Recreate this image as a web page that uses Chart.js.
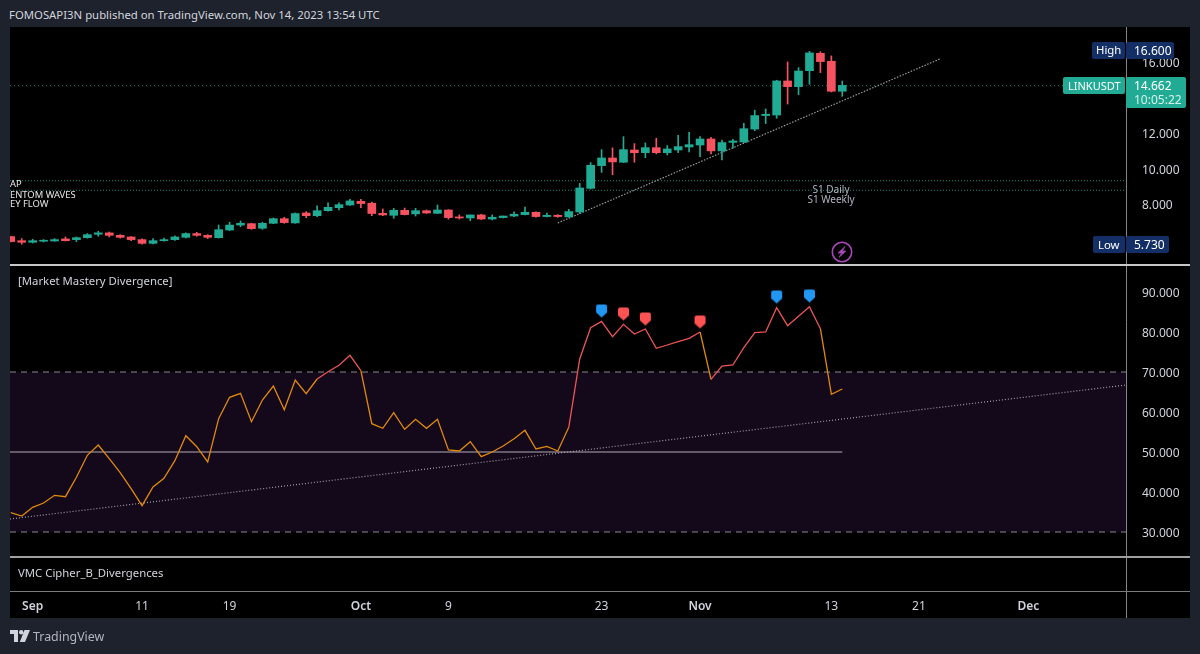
<!DOCTYPE html>
<html>
<head>
<meta charset="utf-8">
<script src="https://cdn.jsdelivr.net/npm/chart.js@4"></script>
<style>
html, body { margin: 0; padding: 0; background: #1e222d; width: 1200px; height: 654px; overflow: hidden; }
body { font-family: "Noto Sans", sans-serif; color: #d1d4dc; font-size: 11.35px; }
#chart { position: absolute; left: 10px; top: 27px; }
.txt { position: absolute; white-space: nowrap; line-height: 14px; }
.box { position: absolute; border-radius: 2px; }
.num { font-size: 12px; }
#leftClip { position: absolute; left: 10px; top: 176px; width: 100px; height: 40px; overflow: hidden; font-size: 9.4px; color: #e6e6e6; }
</style>
</head>
<body>
<canvas id="chart" width="1180" height="591"></canvas>

<div class="txt" style="left:9px;top:8px;">FOMOSAPI3N published on TradingView.com, Nov 14, 2023 13:54 UTC</div>

<div class="box" style="left:1092px;top:42px;width:33px;height:17px;background:#132f66;"></div>
<div class="box" style="left:1126px;top:42px;width:48px;height:17px;background:#132f66;"></div>
<div class="txt" style="left:1096px;top:43px;color:#fff;">High</div>
<div class="txt num" style="left:1134px;top:44px;color:#fff;">16.600</div>

<div class="box" style="left:1063px;top:77px;width:62px;height:17px;background:#22ab94;"></div>
<div class="box" style="left:1126px;top:77px;width:60px;height:31px;background:#22ab94;"></div>
<div class="txt" style="left:1068px;top:79px;color:#fff;font-size:11px;">LINKUSDT</div>
<div class="txt num" style="left:1134px;top:79px;color:#fff;">14.662</div>
<div class="txt num" style="left:1134px;top:93px;color:#d5f0ea;">10:05:22</div>

<div class="box" style="left:1093px;top:236px;width:32px;height:17px;background:#132f66;"></div>
<div class="box" style="left:1126px;top:236px;width:43px;height:17px;background:#132f66;"></div>
<div class="txt" style="left:1098px;top:238px;color:#fff;">Low</div>
<div class="txt num" style="left:1134px;top:238px;color:#fff;">5.730</div>

<div id="leftClip">
  <div class="txt" style="left:0;top:1px;">AP</div>
  <div class="txt" style="left:0;top:12px;">ENTOM WAVES</div>
  <div class="txt" style="left:0;top:21px;">EY FLOW</div>
</div>

<div class="txt" style="left:791px;width:80px;text-align:center;top:182px;font-size:10px;color:#b2b5be;">S1 Daily</div>
<div class="txt" style="left:791px;width:80px;text-align:center;top:192px;font-size:10px;color:#b2b5be;">S1 Weekly</div>

<svg style="position:absolute;left:831px;top:241px;" width="22" height="22" viewBox="0 0 22 22">
  <circle cx="11" cy="11" r="9.7" fill="none" stroke="#ab47bc" stroke-width="1.6"/>
  <path d="M14 5.5 L7 12 H10.5 L8 16.5 L15 10 H11.5 Z" fill="#ab47bc" stroke="#ab47bc" stroke-width="0.6"/>
</svg>

<div class="txt" style="left:18px;top:274px;">[Market Mastery Divergence]</div>
<div class="txt" style="left:18px;top:566px;">VMC Cipher_B_Divergences</div>

<svg style="position:absolute;left:10px;top:630px;" width="20" height="12" viewBox="0 0 20 12">
  <path d="M0 0 H8 V12 H4 V4 H0 Z" fill="#d1d4dc"/>
  <circle cx="11.2" cy="2.2" r="2.2" fill="#d1d4dc"/>
  <path d="M14.5 0 H20 L15 12 H9.8 Z" fill="#d1d4dc"/>
</svg>
<div class="txt" style="left:33px;top:629px;font-size:12.4px;line-height:16px;color:#b2b5be;">TradingView</div>

<script>
// days counted from 1 Sep 2023, first candle is 30 Aug
const firstDay = -2;
const opens = [6.16,5.93,5.84,5.90,5.91,6.03,5.99,6.10,6.29,6.37,6.23,6.14,5.99,5.78,5.93,5.99,6.12,6.33,6.23,6.10,6.53,6.81,6.89,6.63,6.91,7.17,6.93,7.49,7.34,7.62,7.79,7.94,8.15,8.04,7.47,7.36,7.64,7.44,7.62,7.47,7.66,7.27,7.21,7.38,7.15,7.23,7.32,7.40,7.53,7.29,7.36,7.27,7.55,8.88,10.16,10.59,10.35,11.04,10.89,11.17,10.89,11.04,11.21,11.32,11.66,10.99,11.47,11.49,12.22,12.98,13.01,14.93,14.61,15.51,16.49,16.04,14.35];
const highs = [6.18,6.05,6.01,5.99,6.05,6.14,6.14,6.33,6.46,6.42,6.27,6.16,6.03,6.05,6.07,6.20,6.37,6.40,6.27,6.81,6.97,7.04,6.91,6.97,7.21,7.25,7.49,7.57,7.89,8.06,8.06,8.26,8.26,8.11,7.72,7.75,7.77,7.75,7.66,7.94,7.68,7.38,7.38,7.42,7.38,7.32,7.55,7.83,7.55,7.49,7.40,7.70,9.16,10.33,11.06,11.16,11.79,11.40,11.44,11.70,11.29,11.87,12.04,11.79,11.76,11.60,11.64,12.54,13.28,13.35,14.97,16.00,15.68,16.60,16.58,16.34,14.93];
const lows = [5.86,5.73,5.80,5.86,5.90,5.91,5.88,6.07,6.18,6.14,6.08,5.93,5.73,5.75,5.90,5.95,6.08,6.18,6.05,6.08,6.50,6.72,6.57,6.57,6.89,6.91,6.91,7.23,7.29,7.59,7.66,7.91,7.79,7.34,7.34,7.19,7.38,7.32,7.47,7.46,7.14,7.15,7.06,7.12,7.10,7.21,7.29,7.38,7.25,7.27,7.25,7.25,7.46,8.84,9.78,9.65,10.33,10.35,10.61,10.82,10.76,10.89,10.93,10.67,10.82,10.48,11.14,11.45,12.13,12.53,12.83,13.63,14.16,14.74,15.40,14.31,14.07];
const closes = [5.88,5.84,5.93,5.95,5.99,5.93,6.10,6.27,6.37,6.23,6.12,5.99,5.78,5.93,5.99,6.14,6.33,6.23,6.12,6.55,6.81,6.91,6.61,6.91,7.17,6.95,7.46,7.34,7.62,7.81,7.96,8.17,8.02,7.46,7.38,7.64,7.40,7.62,7.49,7.66,7.23,7.21,7.38,7.15,7.25,7.32,7.42,7.53,7.29,7.36,7.29,7.57,8.90,10.18,10.59,10.37,11.06,10.89,11.17,10.89,11.10,11.23,11.34,11.66,10.99,11.46,11.55,12.24,12.98,13.05,14.93,14.61,15.49,16.51,16.02,14.35,14.68];
const rsiValues = [34.83,34.0,36.17,37.25,39.17,38.83,43.67,49.17,51.75,48.33,44.83,40.83,36.58,41.25,43.42,47.83,54.08,51.33,47.5,58.33,63.67,64.67,57.58,63,66.5,60.58,68,64.58,68.25,70.08,71.67,74.17,70.33,57.08,55.92,59.83,55.67,58.17,55.92,58.17,50.5,50.25,52.58,48.83,50,51.5,53.33,55.42,50.75,51.42,50.25,56.17,73.25,81.08,82.67,78.83,81.92,79.5,80.75,75.92,76.75,77.58,78.42,80,68.17,71.5,71.75,76.08,79.83,80,86.08,81.58,83.92,86.33,80.83,64.42,65.75];

const priceTicks = [8, 10, 12, 16];
const rsiTicks = [30, 40, 50, 60, 70, 80, 90];
const timeTickDays = [0, 10, 18, 30, 38, 52, 61, 73, 81, 91];
const timeTickLabels = ['Sep', '11', '19', 'Oct', '9', '23', 'Nov', '13', '21', 'Dec'];
const monthLabels = ['Sep', 'Oct', 'Nov', 'Dec'];

const lastClose = 14.662;
const s1Daily = 9.31;
const s1Weekly = 8.77;
const priceTrendDays = [48, 83];
const priceTrendValues = [6.93, 16.19];
const rsiTrendValues = [33.25, 66.75];
const rsiLevels = [30, 50, 70];
const blueMarkDays = [52, 68, 71];
const blueMarkValues = [85.25, 88.75, 89];
const redMarkDays = [54, 56, 61];
const redMarkValues = [84.5, 83.25, 82.5];

const xMin = -2.07, xMax = 99.93;
const GREEN = '#22ab94', RED = '#f7525f';

const days = opens.map((_, i) => firstDay + i);
const candleColors = opens.map((o, i) => closes[i] >= o ? GREEN : RED);

function shieldIcon(color) {
    const c = document.createElement('canvas');
    c.width = 13; c.height = 15;
    const g = c.getContext('2d');
    g.fillStyle = color;
    g.beginPath();
    g.moveTo(3, 1);
    g.lineTo(10, 1);
    g.quadraticCurveTo(12, 1, 12, 3);
    g.lineTo(12, 9);
    g.lineTo(6.5, 14);
    g.lineTo(1, 9);
    g.lineTo(1, 3);
    g.quadraticCurveTo(1, 1, 3, 1);
    g.fill();
    return c;
}

function hLine(id, y, x0, x1, color, width, dash, extra) {
    return Object.assign({
        type: 'line', yAxisID: id, pointRadius: 0, borderColor: color, borderWidth: width,
        borderDash: dash, data: [{x: x0, y: y}, {x: x1, y: y}]
    }, extra || {});
}

const paneLines = {
    id: 'paneLines',
    afterDatasetsDraw(chart) {
        const g = chart.ctx, a = chart.chartArea;
        const yRsi = chart.scales.yRsi, yEmpty = chart.scales.yEmpty;
        g.save();
        g.strokeStyle = '#858585';
        g.lineWidth = 1;
        g.beginPath();
        g.moveTo(a.right + 0.5, 0);
        g.lineTo(a.right + 0.5, chart.height);
        g.stroke();
        g.lineWidth = 2;
        g.strokeStyle = '#c8c8c8';
        g.beginPath();
        g.moveTo(0, yRsi.top);
        g.lineTo(chart.width, yRsi.top);
        g.stroke();
        g.strokeStyle = '#a0a0a0';
        g.beginPath();
        g.moveTo(0, yEmpty.top);
        g.lineTo(chart.width, yEmpty.top);
        g.stroke();
        g.lineWidth = 1;
        g.strokeStyle = '#7c7c7c';
        g.beginPath();
        g.moveTo(0, yEmpty.bottom + 0.5);
        g.lineTo(chart.width, yEmpty.bottom + 0.5);
        g.stroke();
        g.restore();
    }
};

const blackBackground = {
    id: 'blackBackground',
    beforeDraw(chart) {
        chart.ctx.save();
        chart.ctx.fillStyle = '#000';
        chart.ctx.fillRect(0, 0, chart.width, chart.height);
        chart.ctx.restore();
    }
};

function fixedTicks(list) {
    return function(scale) { scale.ticks = list.map(v => ({value: v})); };
}

function fitPane(s) {
    s.width = 64;
    s.paddingTop = 0;
    s.paddingBottom = 0;
}

const tickFont = {family: '"Noto Sans", sans-serif', size: 12};

new Chart(document.getElementById('chart'), {
    type: 'bar',
    data: {
        datasets: [
            // 30-70 band of the oscillator
            hLine('yRsi', rsiLevels[2], xMin, xMax, '#8b8790', 1, [6, 5], {fill: '+1', backgroundColor: '#14081b', order: 9}),
            hLine('yRsi', rsiLevels[0], xMin, xMax, '#8b8790', 1, [6, 5], {order: 8}),
            hLine('yRsi', rsiLevels[1], xMin, days[days.length - 1], '#b0acb4', 1.2, [], {order: 7}),
            hLine('yPrice', s1Daily, xMin, xMax, 'rgba(34,171,148,0.8)', 1, [1, 2], {order: 6}),
            hLine('yPrice', s1Weekly, xMin, xMax, 'rgba(34,171,148,0.8)', 1, [1, 2], {order: 6}),
            hLine('yPrice', lastClose, xMin, xMax, 'rgba(34,171,148,0.8)', 1, [1, 3], {order: 6}),
            {
                type: 'line', yAxisID: 'yPrice', order: 5, pointRadius: 0, borderColor: '#9a9a9a', borderWidth: 1.2, borderDash: [1.5, 1.5],
                data: priceTrendDays.map((d, i) => ({x: d, y: priceTrendValues[i]}))
            },
            {
                type: 'line', yAxisID: 'yRsi', order: 5, pointRadius: 0, borderColor: '#a39fa8', borderWidth: 1.2, borderDash: [1, 2],
                data: [{x: xMin, y: rsiTrendValues[0]}, {x: xMax, y: rsiTrendValues[1]}]
            },
            {
                type: 'bar', yAxisID: 'yPrice', order: 4, grouped: false, barThickness: 1, backgroundColor: candleColors,
                data: days.map((d, i) => ({x: d, y: [lows[i], highs[i]]}))
            },
            {
                type: 'bar', yAxisID: 'yPrice', order: 3, grouped: false, barThickness: 8, minBarLength: 1, backgroundColor: candleColors,
                data: days.map((d, i) => ({x: d, y: [opens[i], closes[i]]}))
            },
            {
                type: 'line', yAxisID: 'yRsi', order: 2, pointRadius: 0, borderWidth: 1.3, borderColor: '#e08a0c', tension: 0,
                segment: {borderColor: ctx => ctx.p1.parsed.y >= 70 ? '#ee5555' : '#e08a0c'},
                data: days.map((d, i) => ({x: d, y: rsiValues[i]}))
            },
            {
                type: 'line', yAxisID: 'yRsi', order: 1, showLine: false, pointStyle: shieldIcon('#2196f3'), pointRadius: 7,
                data: blueMarkDays.map((d, i) => ({x: d, y: blueMarkValues[i]}))
            },
            {
                type: 'line', yAxisID: 'yRsi', order: 1, showLine: false, pointStyle: shieldIcon('#ff5252'), pointRadius: 7,
                data: redMarkDays.map((d, i) => ({x: d, y: redMarkValues[i]}))
            }
        ]
    },
    options: {
        responsive: false,
        animation: false,
        layout: {padding: 0, autoPadding: false},
        plugins: {legend: {display: false}, tooltip: {enabled: false}, title: {display: false}},
        scales: {
            x: {
                type: 'linear', min: xMin, max: xMax, offset: false,
                grid: {display: false}, border: {display: false},
                afterBuildTicks: fixedTicks(timeTickDays),
                afterFit: s => { s.height = 27; s.paddingLeft = 0; s.paddingRight = 0; },
                ticks: {
                    autoSkip: false, maxRotation: 0, padding: 0, color: '#d1d4dc',
                    font: ctx => {
                        const i = ctx.tick ? timeTickDays.indexOf(ctx.tick.value) : -1;
                        return Object.assign({}, tickFont, {weight: i >= 0 && monthLabels.includes(timeTickLabels[i]) ? '600' : '400'});
                    },
                    callback: (v, i) => timeTickLabels[i]
                }
            },
            yPrice: {
                position: 'right', stack: 'panes', stackWeight: 238, weight: 1,
                min: 4.56, max: 17.97,
                grid: {display: false}, border: {display: false},
                afterBuildTicks: fixedTicks(priceTicks),
                afterFit: fitPane,
                ticks: {autoSkip: false, padding: 8, labelOffset: 2, color: '#d1d4dc', font: tickFont, callback: v => v.toFixed(3)}
            },
            yRsi: {
                position: 'right', stack: 'panes', stackWeight: 292, weight: 2,
                min: 23.75, max: 96.75,
                grid: {display: false}, border: {display: false},
                afterBuildTicks: fixedTicks(rsiTicks),
                afterFit: fitPane,
                ticks: {autoSkip: false, padding: 8, labelOffset: 2, color: '#d1d4dc', font: tickFont, callback: v => v.toFixed(3)}
            },
            yEmpty: {
                position: 'right', stack: 'panes', stackWeight: 34, weight: 3,
                grid: {display: false}, border: {display: false},
                afterFit: fitPane,
                ticks: {display: false}
            }
        }
    },
    plugins: [blackBackground, paneLines]
});
</script>
</body>
</html>
